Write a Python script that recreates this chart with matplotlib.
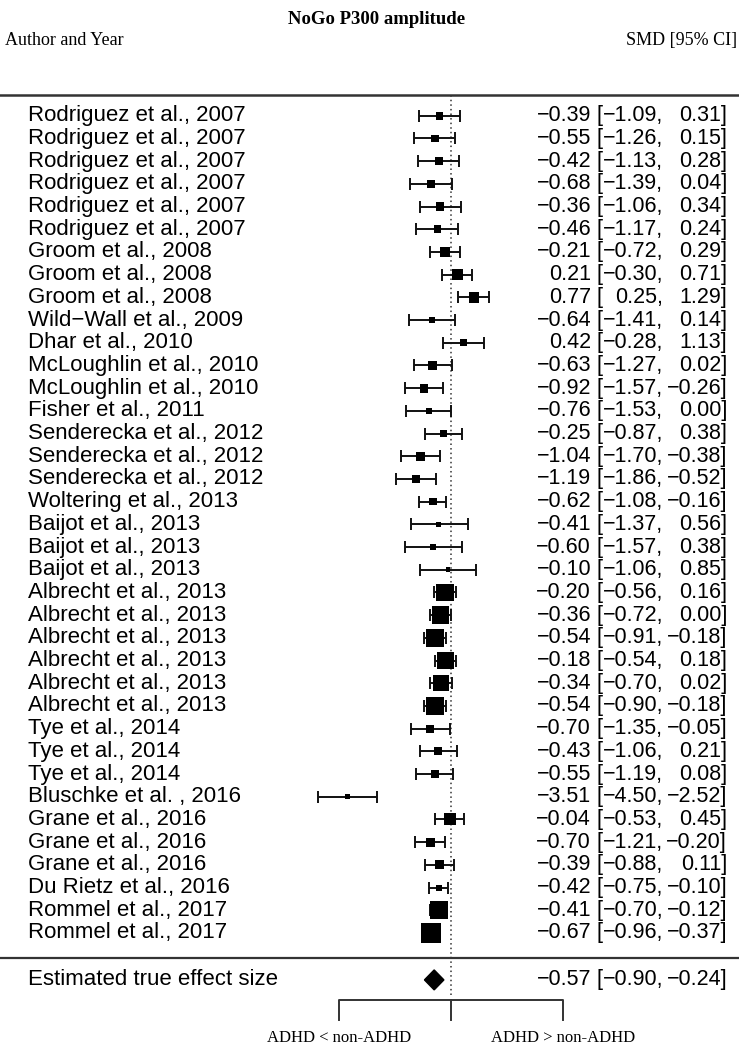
import numpy as np
import matplotlib
matplotlib.use("Agg")
import matplotlib.pyplot as plt

# ---------------------------------------------------
# DATA
# ---------------------------------------------------
studies = [
    "Rodriguez et al., 2007", "Rodriguez et al., 2007", "Rodriguez et al., 2007",
    "Rodriguez et al., 2007", "Rodriguez et al., 2007", "Rodriguez et al., 2007",
    "Groom et al., 2008", "Groom et al., 2008", "Groom et al., 2008",
    "Wild\u2212Wall et al., 2009", "Dhar et al., 2010",
    "McLoughlin et al., 2010", "McLoughlin et al., 2010", "Fisher et al., 2011",
    "Senderecka et al., 2012", "Senderecka et al., 2012", "Senderecka et al., 2012",
    "Woltering et al., 2013",
    "Baijot et al., 2013", "Baijot et al., 2013", "Baijot et al., 2013",
    "Albrecht et al., 2013", "Albrecht et al., 2013", "Albrecht et al., 2013",
    "Albrecht et al., 2013", "Albrecht et al., 2013", "Albrecht et al., 2013",
    "Tye et al., 2014", "Tye et al., 2014", "Tye et al., 2014",
    "Bluschke et al. , 2016",
    "Grane et al., 2016", "Grane et al., 2016", "Grane et al., 2016",
    "Du Rietz et al., 2016", "Rommel et al., 2017", "Rommel et al., 2017",
]
smd = [-0.39, -0.55, -0.42, -0.68, -0.36, -0.46,
       -0.21, 0.21, 0.77, -0.64, 0.42, -0.63, -0.92, -0.76,
       -0.25, -1.04, -1.19, -0.62, -0.41, -0.60, -0.10,
       -0.20, -0.36, -0.54, -0.18, -0.34, -0.54,
       -0.70, -0.43, -0.55, -3.51, -0.04, -0.70, -0.39,
       -0.42, -0.41, -0.67]
ci_lo = [-1.09, -1.26, -1.13, -1.39, -1.06, -1.17,
         -0.72, -0.30, 0.25, -1.41, -0.28, -1.27, -1.57, -1.53,
         -0.87, -1.70, -1.86, -1.08, -1.37, -1.57, -1.06,
         -0.56, -0.72, -0.91, -0.54, -0.70, -0.90,
         -1.35, -1.06, -1.19, -4.50, -0.53, -1.21, -0.88,
         -0.75, -0.70, -0.96]
ci_hi = [0.31, 0.15, 0.28, 0.04, 0.34, 0.24,
         0.29, 0.71, 1.29, 0.14, 1.13, 0.02, -0.26, 0.00,
         0.38, -0.38, -0.52, -0.16, 0.56, 0.38, 0.85,
         0.16, 0.00, -0.18, 0.18, 0.02, -0.18,
         -0.05, 0.21, 0.08, -2.52, 0.45, -0.20, 0.11,
         -0.10, -0.12, -0.37]
# approximate weights (%) judged from the box sizes
weights = [1.33, 1.33, 1.53, 1.33, 1.53, 1.33,
           2.45, 2.71, 2.45, 0.82, 0.98, 1.74, 1.74, 0.82,
           1.33, 1.74, 1.53, 1.33, 0.55, 0.82, 0.55,
           6.95, 6.95, 6.95, 6.95, 6.11, 6.95,
           1.53, 1.53, 1.53, 0.68, 3.28, 1.96, 1.74,
           0.82, 7.39, 8.79]

summary_label = "Estimated true effect size"
summary_est, summary_lo, summary_hi = -0.57, -0.90, -0.24


def fmt(v):
    return f"{v:.2f}".replace("-", "\u2212")


# ---------------------------------------------------
# LAYOUT
# ---------------------------------------------------
SANS = "Liberation Sans"
SERIF = "Liberation Serif"
FS_LAB = 16
FS_VAL = 15.5

fig = plt.figure(figsize=(7.39, 10.48), dpi=100)
ax = fig.add_axes([0, 0, 1, 1])
ax.set_xlim(-15.288, 9.763)
ax.set_ylim(-4.07, 42.10)
ax.axis("off")

n = len(studies)
rows = np.arange(n, 0, -1)
y_sum = -1.07

# whiskers + boxes
est = np.array(smd)
lo = np.array(ci_lo)
hi = np.array(ci_hi)
ax.errorbar(est, rows, xerr=[est - lo, hi - est], fmt="none", ecolor="#111111",
            elinewidth=1.4, capsize=4.3, capthick=1.4, zorder=2)
side_pt = 6.6 * np.sqrt(np.array(weights)) * 0.72
ax.scatter(est, rows, s=side_pt ** 2, marker="s", color="black",
           linewidths=0, zorder=3)

# summary diamond
h = 0.44
ax.fill([summary_lo, summary_est, summary_hi, summary_est],
        [y_sum, y_sum + h, y_sum, y_sum - h], color="black", zorder=3)

# reference line at 0
ax.plot([0, 0], [-1.75, 37.9], color="#333333", lw=1.1, ls=(0, (1, 2.0)), zorder=1)

# horizontal rules
ax.axhline(37.91, color="#333333", lw=1.8)
ax.axhline(-0.11, color="#333333", lw=1.6)


def value_cells(y, e, l, u):
    ax.text(4.75, y, fmt(e), family=SANS, fontsize=FS_VAL, va="center", ha="right")
    ax.text(4.93, y, "[", family=SANS, fontsize=FS_VAL, va="center", ha="left")
    ax.text(7.19, y, fmt(l) + ",", family=SANS, fontsize=FS_VAL, va="center", ha="right")
    ax.text(9.36, y, fmt(u) + "]", family=SANS, fontsize=FS_VAL, va="center", ha="right")


# study labels and values
x_lab = -14.34
for i in range(n):
    ax.text(x_lab, rows[i], studies[i], family=SANS, fontsize=FS_LAB,
            va="center", ha="left")
    value_cells(rows[i], smd[i], ci_lo[i], ci_hi[i])

ax.text(x_lab, y_sum, summary_label, family=SANS, fontsize=FS_LAB, va="center", ha="left")
value_cells(y_sum, summary_est, summary_lo, summary_hi)

# headers
ax.text(-2.54, 41.26, "NoGo P300 amplitude", family=SERIF, fontweight="bold",
        fontsize=13.5, va="center", ha="center")
ax.text(-15.12, 40.33, "Author and Year", family=SERIF, fontsize=13,
        va="center", ha="left")
ax.text(9.70, 40.33, "SMD [95% CI]", family=SERIF, fontsize=13,
        va="center", ha="right")

# direction bracket
xb = 3.8
ax.plot([-xb, -xb, xb, xb], [-2.83, -1.95, -1.95, -2.83], color="#333333", lw=1.4)
ax.plot([0, 0], [-1.95, -2.83], color="#333333", lw=1.4)
ax.text(-xb, -3.63, "ADHD < non-ADHD", family=SERIF, fontsize=12, va="center", ha="center")
ax.text(xb, -3.63, "ADHD > non-ADHD", family=SERIF, fontsize=12, va="center", ha="center")

fig.savefig("out.png", dpi=100)
